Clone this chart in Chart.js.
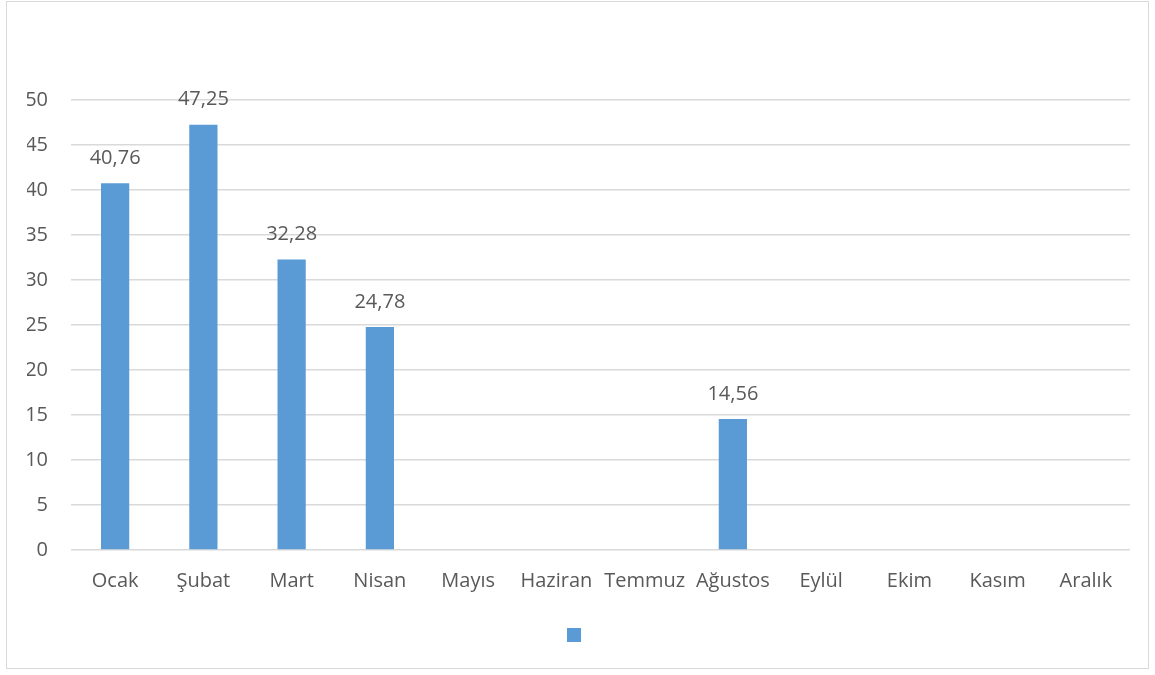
<!DOCTYPE html>
<html>
<head>
<meta charset="utf-8">
<script src="https://cdn.jsdelivr.net/npm/chart.js@4/dist/chart.umd.min.js"></script>
<style>
  html, body { margin: 0; padding: 0; background: #fff; }
  #wrap { position: relative; width: 1155px; height: 675px; }
  #frame { position: absolute; left: 6px; top: 1px; width: 1141px; height: 666px; border: 1px solid #d9d9d9; pointer-events: none; }
  canvas { position: absolute; left: 0; top: 0; }
</style>
</head>
<body>
<div id="wrap">
  <canvas id="c" width="1155" height="675"></canvas>
  <div id="frame"></div>
</div>
<script>
const months = ['Ocak', 'Şubat', 'Mart', 'Nisan', 'Mayıs', 'Haziran', 'Temmuz', 'Ağustos', 'Eylül', 'Ekim', 'Kasım', 'Aralık'];
const values = [40.76, 47.25, 32.28, 24.78, null, null, null, 14.56, null, null, null, null];
const yTicks = [0, 5, 10, 15, 20, 25, 30, 35, 40, 45, 50];

const FONT = '"Open Sans", "Noto Sans", sans-serif';
const TEXT = '#595959';

const labelPlugin = {
  id: 'barLabels',
  afterDatasetsDraw(chart) {
    const ctx = chart.ctx;
    const meta = chart.getDatasetMeta(0);
    ctx.save();
    ctx.font = '20px ' + FONT;
    ctx.fillStyle = TEXT;
    ctx.textAlign = 'center';
    ctx.textBaseline = 'middle';
    meta.data.forEach((bar, i) => {
      const v = values[i];
      if (v === null || v === undefined) return;
      const txt = v.toFixed(2).replace('.', ',');
      ctx.fillText(txt, bar.x, bar.y - 25);
    });
    ctx.restore();
  }
};

new Chart(document.getElementById('c'), {
  type: 'bar',
  data: {
    labels: months,
    datasets: [{
      label: '',
      data: values,
      backgroundColor: '#5b9bd5',
      borderWidth: 0,
      barPercentage: 0.32,
      categoryPercentage: 1.0
    }]
  },
  options: {
    responsive: false,
    animation: false,
    layout: { padding: { top: 100, right: 25, left: 27, bottom: 21 } },
    plugins: {
      legend: {
        display: true,
        position: 'bottom',
        labels: { boxWidth: 14, boxHeight: 14, padding: 10, font: { size: 18, family: FONT }, color: TEXT }
      },
      tooltip: { enabled: false }
    },
    scales: {
      x: {
        grid: { display: false, drawTicks: false },
        border: { display: false },
        ticks: { color: TEXT, font: { size: 20, family: FONT }, padding: 19, maxRotation: 0, autoSkip: false },
        afterFit(scale) { scale.height = 66; }
      },
      y: {
        min: 0, max: 50,
        afterBuildTicks(scale) { scale.ticks = yTicks.map(v => ({ value: v })); },
        grid: { color: '#d9d9d9', lineWidth: 1.6, drawTicks: false },
        border: { display: false },
        ticks: { color: TEXT, font: { size: 20, family: FONT }, padding: 23 },
        afterFit(scale) { scale.width = 44; }
      }
    }
  },
  plugins: [labelPlugin]
});
</script>
</body>
</html>
